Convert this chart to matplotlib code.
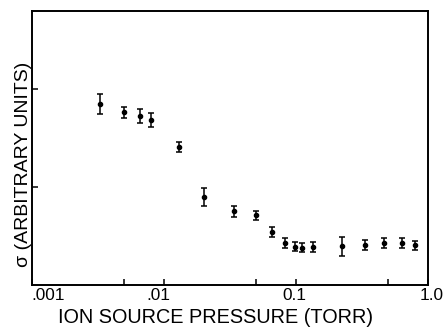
import matplotlib
matplotlib.use("Agg")
import matplotlib.pyplot as plt
import matplotlib.transforms as mtransforms

# Data
pressure = [0.00328, 0.0050, 0.0066, 0.0080, 0.0129, 0.0200, 0.0337, 0.0496,
            0.0659, 0.0822, 0.0989, 0.111, 0.135, 0.222, 0.333, 0.469, 0.635, 0.80]
sigma = [1.844, 1.765, 1.721, 1.684, 1.408, 0.895, 0.752, 0.711,
         0.538, 0.431, 0.388, 0.381, 0.388, 0.395, 0.411, 0.429, 0.429, 0.408]
sigma_err = [0.10, 0.056, 0.071, 0.071, 0.049, 0.093, 0.058, 0.046,
             0.049, 0.049, 0.046, 0.044, 0.048, 0.099, 0.049, 0.051, 0.051, 0.046]

xticks = [0.001, 0.01, 0.1, 1.0]
xticklabels = [".001", ".01", "0.1", "1.0"]
xminor = [0.005, 0.05, 0.5]
yticks = [1, 2]

plt.rcParams['font.family'] = ['Liberation Sans', 'DejaVu Sans']

fig = plt.figure(figsize=(4.43, 3.28), dpi=100)
ax = fig.add_axes([32.3/443, 43/328, 395.4/443, 274/328])

ax.errorbar(pressure, sigma, yerr=sigma_err, fmt='o', color='black',
            markersize=3, elinewidth=1.1, capsize=2.0, capthick=1.1)

ax.set_xscale('log')
ax.set_xlim(0.001, 1.0)
ax.set_ylim(0, 2.796)
ax.set_xticks(xticks)
ax.set_xticklabels(xticklabels, fontsize=12.4)
ax.set_xticks(xminor, minor=True)
ax.xaxis.set_minor_formatter(matplotlib.ticker.NullFormatter())
ax.set_yticks(yticks)
ax.set_yticklabels([])

ax.tick_params(axis='both', which='both', direction='in', length=4.5, width=1.1,
               top=False, right=False, pad=2)

for s in ax.spines.values():
    s.set_linewidth(1.4)

# shift tick labels to match reference placement
offsets_px = [16, -5.7, -2, 3.7]
for lab, dx in zip(ax.get_xticklabels(), offsets_px):
    lab.set_transform(lab.get_transform() +
                      mtransforms.ScaledTranslation(dx/100, 0, fig.dpi_scale_trans))

ax.set_xlabel("ION SOURCE PRESSURE (TORR)", fontsize=14.3)
ax.xaxis.set_label_coords(0.463, -0.084)
ax.set_ylabel("σ (ARBITRARY UNITS)", fontsize=14.0)
ax.yaxis.set_label_coords(0.0, 0.4416)

fig.savefig("out.png", dpi=100)
